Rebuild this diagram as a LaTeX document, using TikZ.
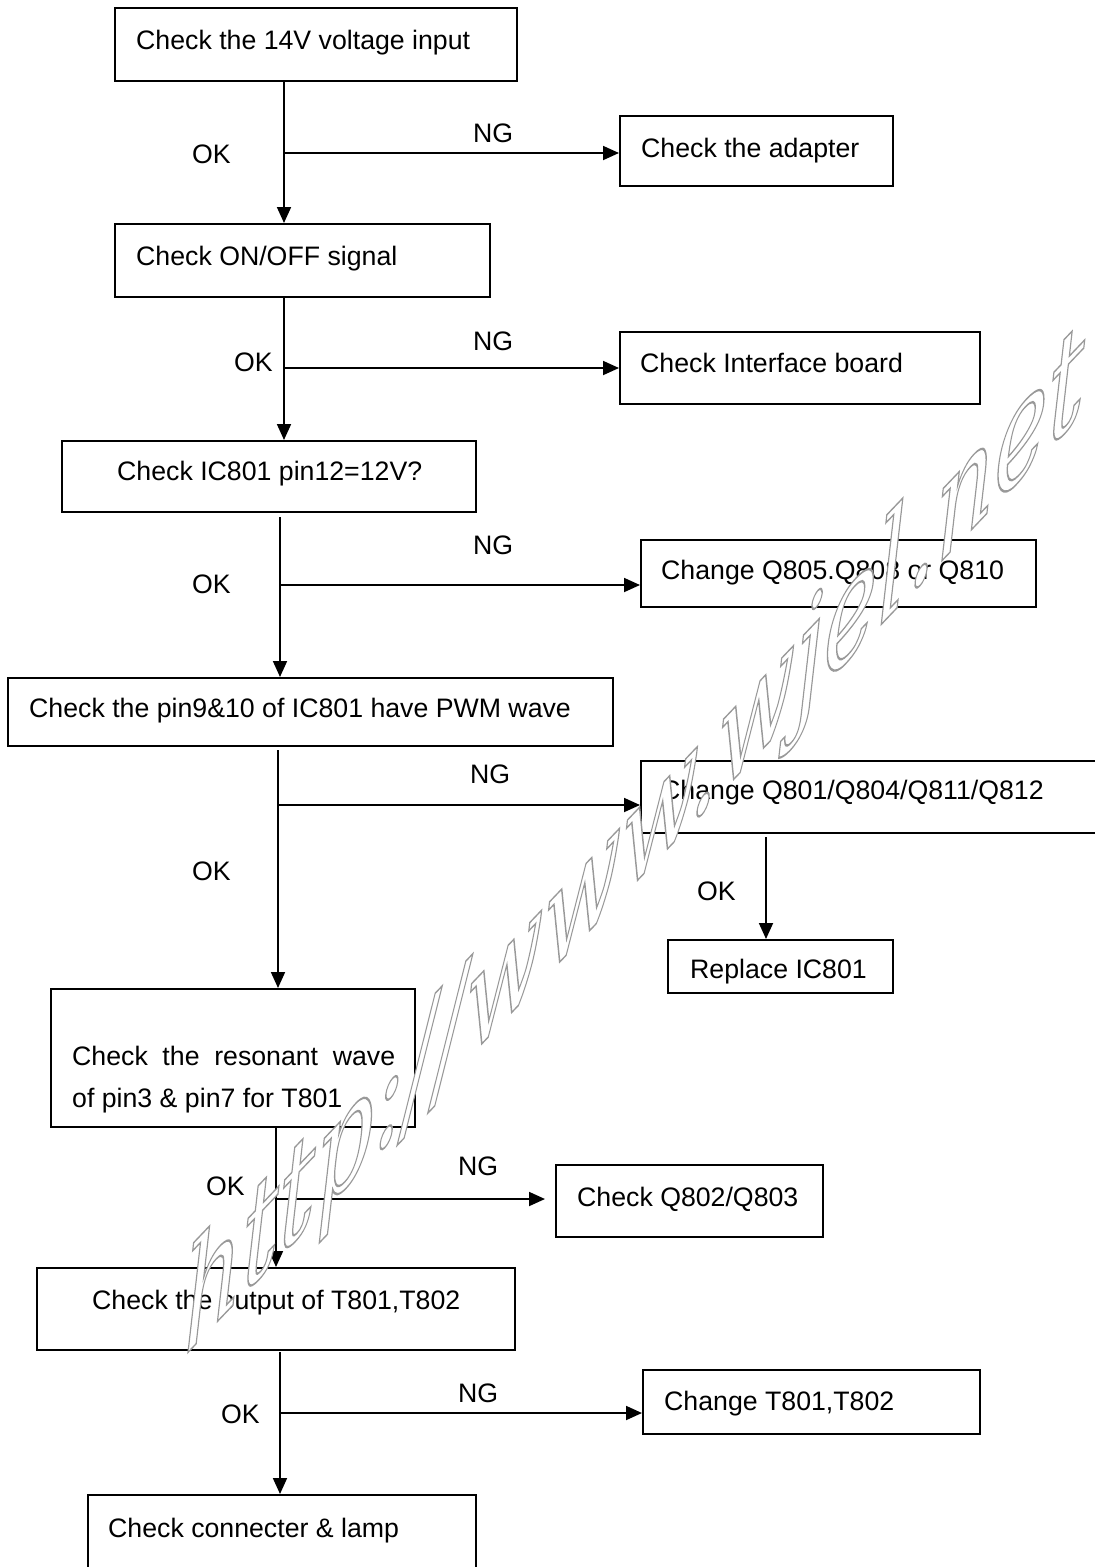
\documentclass[tikz,border=0pt]{standalone}
\usepackage{fontspec}
\setmainfont{Liberation Sans}
\newfontfamily\wmfont{DejaVu Serif}
\usetikzlibrary{arrows.meta,fit}
\begin{document}
\begin{tikzpicture}[x=1pt,y=-1pt,
  box/.style={draw, line width=2pt, inner sep=0pt, fit={#1}},
  txt/.style={anchor=base west, inner sep=0pt, font=\fontsize{26.7}{32}\selectfont},
  arr/.style={line width=1.8pt, -{Triangle[length=16pt,width=14pt]}}]
\useasboundingbox (0,0) rectangle (1095,1567);
\fill[white] (0,0) rectangle (1095,1567);

% boxes
\node[box={(115,8) (517,81)}] (b1) {};
\node[box={(620,116) (893,186)}] (adapter) {};
\node[box={(115,224) (490,297)}] (b2) {};
\node[box={(620,332) (980,404)}] (iface) {};
\node[box={(62,441) (476,512)}] (b3) {};
\node[box={(641,540) (1036,607)}] (q805) {};
\node[box={(8,678) (613,746)}] (b4) {};
\node[box={(641,761) (1110,833)}] (q801) {};
\node[box={(668,940) (893,993)}] (repl) {};
\node[box={(51,989) (415,1127)}] (b5) {};
\node[box={(556,1165) (823,1237)}] (q802) {};
\node[box={(37,1268) (515,1350)}] (b6) {};
\node[box={(643,1370) (980,1434)}] (t801) {};
\node[box={(88,1495) (476,1590)}] (b7) {};

% box texts
\node[txt] (t1) at (136,49) {Check the 14V voltage input};
\node[txt] (t2) at (641,157) {Check the adapter};
\node[txt] (t3) at (136,265) {Check ON/OFF signal};
\node[txt] (t4) at (640,372) {Check Interface board};
\node[txt] (t5) at (117,480) {Check IC801 pin12=12V?};
\node[txt] (t6) at (661,579) {Change Q805.Q808 or Q810};
\node[txt] (t7) at (29,717) {Check the pin9\&10 of IC801 have PWM wave};
\node[txt] (t8) at (661,799) {Change Q801/Q804/Q811/Q812};
\node[txt] (t9) at (690,978) {Replace IC801};
\node[txt] (t10) at (72,1065) {\makebox[323pt][s]{Check the resonant wave}};
\node[txt] (t11) at (72,1107) {of pin3 \& pin7 for T801};
\node[txt] (t12) at (577,1206) {Check Q802/Q803};
\node[txt] (t13) at (92,1309) {Check the output of T801,T802};
\node[txt] (t14) at (664,1410) {Change T801,T802};
\node[txt] (t15) at (108,1537) {Check connecter \& lamp};

% labels
\node[txt] (ng1) at (473,142) {NG};
\node[txt] (ok1) at (192,163) {OK};
\node[txt] (ng2) at (473,350) {NG};
\node[txt] (ok2) at (234,371) {OK};
\node[txt] (ng3) at (473,554) {NG};
\node[txt] (ok3) at (192,593) {OK};
\node[txt] (ng4) at (470,783) {NG};
\node[txt] (ok4) at (192,880) {OK};
\node[txt] (ok5) at (697,900) {OK};
\node[txt] (ng5) at (458,1175) {NG};
\node[txt] (ok6) at (206,1195) {OK};
\node[txt] (ng6) at (458,1402) {NG};
\node[txt] (ok7) at (221,1423) {OK};

% connector coordinates
\coordinate (s1) at (284,81);
\coordinate (j1) at (284,153);
\coordinate (s2) at (284,297);
\coordinate (j2) at (284,368);
\coordinate (s3) at (280,517);
\coordinate (j3) at (280,585);
\coordinate (s4) at (278,750);
\coordinate (j4) at (278,805);
\coordinate (s5) at (766,837);
\coordinate (s6) at (276,1127);
\coordinate (j6) at (276,1199);
\coordinate (e6) at (545,1199);
\coordinate (s7) at (280,1352);
\coordinate (j7) at (280,1413);

\draw[arr] (s1) -- (s1 |- b2.north);
\draw[arr] (j1) -- (j1 -| adapter.west);
\draw[arr] (s2) -- (s2 |- b3.north);
\draw[arr] (j2) -- (j2 -| iface.west);
\draw[arr] (s3) -- (s3 |- b4.north);
\draw[arr] (j3) -- (j3 -| q805.west);
\draw[arr] (s4) -- (s4 |- b5.north);
\draw[arr] (j4) -- (j4 -| q801.west);
\draw[arr] (s5) -- (s5 |- repl.north);
\draw[arr] (s6) -- (s6 |- b6.north);
\draw[arr] (j6) -- (e6);
\draw[arr] (s7) -- (s7 |- b7.north);
\draw[arr] (j7) -- (j7 -| t801.west);

% watermark: outlined, white-filled, sheared text on top
\node[anchor=base, yslant=1.05, yscale=1.5, inner sep=0pt] (wm) at (634,884)
  {\wmfont\itshape\fontsize{91}{91}\selectfont
   \special{pdf:literal direct 2 Tr 1.3 w 0.6 G 1 g}http://www.wjel.net};
\end{tikzpicture}
\end{document}
